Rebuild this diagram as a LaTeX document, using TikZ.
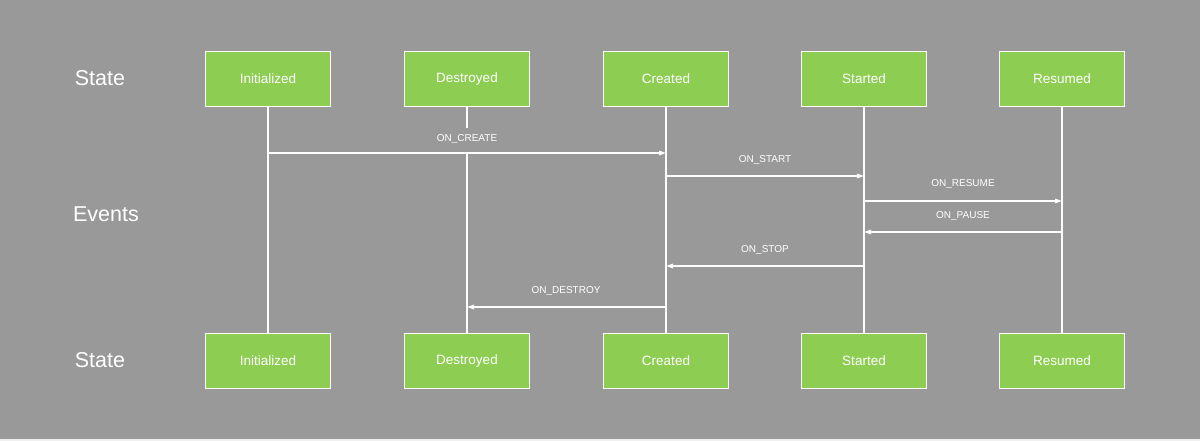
\documentclass[tikz,border=0pt]{standalone}
\usepackage{fontspec}
\setmainfont{Liberation Sans}
\usetikzlibrary{arrows.meta}
\definecolor{bggray}{HTML}{999999}
\definecolor{boxgreen}{HTML}{8DCD52}
\begin{document}
\begin{tikzpicture}[x=1pt,y=-1pt,
  statebox/.style={draw=white,line width=1.5pt,fill=boxgreen,minimum width=125pt,minimum height=55pt,inner sep=0pt,text=white,font=\fontsize{13.5}{15}\selectfont},
  rowlabel/.style={text=white,font=\fontsize{21.5}{24}\selectfont},
  lifeline/.style={draw=white,line width=1.5pt},
  evt/.style={draw=white,line width=1.5pt,-{Triangle[length=7pt,width=4.5pt]}},
  evtlabel/.style={text=white,inner sep=2pt,font=\fontsize{10}{12}\selectfont}]
\fill[bggray] (0,0) rectangle (1200,441);
\fill[white!85!bggray] (0,439) rectangle (1200,441);
\useasboundingbox (0,0) rectangle (1200,441);
% row labels
\node[rowlabel] (ls1) at (100,78) {State};
\node[rowlabel] (le) at (106,214) {Events};
\node[rowlabel] (ls2) at (100,360) {State};
% box centres
\foreach \n/\x in {i/268,d/467,c/666,s/864,r/1062}{
  \coordinate (\n t) at (\x,79);
  \coordinate (\n b) at (\x,361);
}
% events
\coordinate (a1s) at (268,153); \coordinate (a1e) at (666,153);
\coordinate (a2s) at (666,176); \coordinate (a2e) at (864,176);
\coordinate (a3s) at (864,201); \coordinate (a3e) at (1062,201);
\coordinate (a4s) at (1062,232); \coordinate (a4e) at (864,232);
\coordinate (a5s) at (864,266); \coordinate (a5e) at (666,266);
\coordinate (a6s) at (666,307); \coordinate (a6e) at (467,307);
\coordinate (dgap) at (467,128);
\coordinate (dcross) at (467,153);
% lifelines
\foreach \n in {i,c,s,r}{
  \draw[lifeline] (\n t) -- (\n b);
}
\draw[lifeline] (dt) -- (dgap);
\draw[lifeline] (dcross) -- (db);
\draw[evt] (a1s) -- (a1e);
\draw[evt] (a2s) -- (a2e);
\draw[evt] (a3s) -- (a3e);
\draw[evt] (a4s) -- (a4e);
\draw[evt] (a5s) -- (a5e);
\draw[evt] (a6s) -- (a6e);
\node[evtlabel] (l1) at (467,139) {ON\_CREATE};
\node[evtlabel] (l2) at (765,160) {ON\_START};
\node[evtlabel] (l3) at (963,184) {ON\_RESUME};
\node[evtlabel] (l4) at (963,216) {ON\_PAUSE};
\node[evtlabel] (l5) at (765,250) {ON\_STOP};
\node[evtlabel] (l6) at (566,291) {ON\_DESTROY};
% boxes on top
\foreach \n/\t in {i/Initialized,d/Destroyed,c/Created,s/Started,r/Resumed}{
  \node[statebox] (\n T) at (\n t) {\t};
  \node[statebox] (\n B) at (\n b) {\t};
}
\end{tikzpicture}
\end{document}
